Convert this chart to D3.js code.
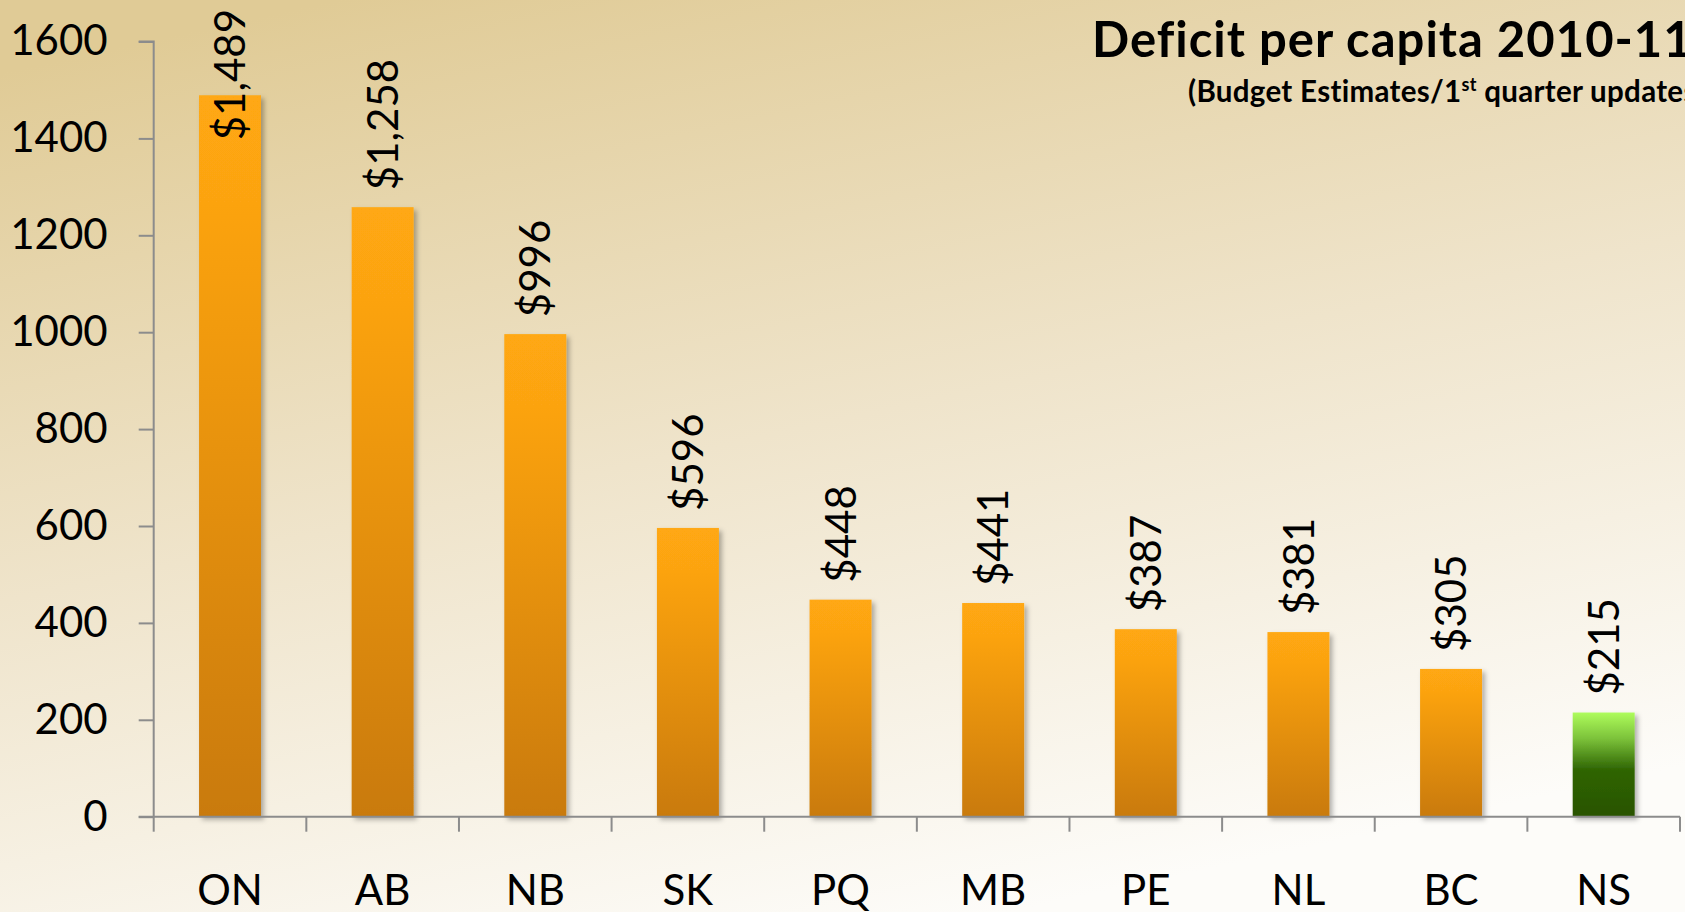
<!DOCTYPE html>
<html>
<head>
<meta charset="utf-8">
<script src="https://cdn.jsdelivr.net/npm/d3@7"></script>
<style>
  html, body { margin: 0; padding: 0; overflow: hidden; }
  svg { display: block; }
</style>
</head>
<body>
<svg id="chart" width="1685" height="912"></svg>
<script>
const categories = ["ON", "AB", "NB", "SK", "PQ", "MB", "PE", "NL", "BC", "NS"];
const values = [1489, 1258, 996, 596, 448, 441, 387, 381, 305, 215];
const labels = ["$1,489", "$1,258", "$996", "$596", "$448", "$441", "$387", "$381", "$305", "$215"];
const yTicks = [0, 200, 400, 600, 800, 1000, 1200, 1400, 1600];
const highlight = ["NS"];
const titleText = "Deficit per capita 2010-11";

const W = 1685, H = 912;
const svg = d3.select("#chart");
const defs = svg.append("defs");

// background gradient
const bg = defs.append("linearGradient").attr("id", "bg")
  .attr("x1", "0.2").attr("y1", "0").attr("x2", "0.6").attr("y2", "1");
bg.append("stop").attr("offset", "0").attr("stop-color", "#e0cb96");
bg.append("stop").attr("offset", "0.5").attr("stop-color", "#efe4cb");
bg.append("stop").attr("offset", "1").attr("stop-color", "#fdfcf9");
svg.append("rect").attr("width", W).attr("height", H).attr("fill", "url(#bg)");

const og = defs.append("linearGradient").attr("id", "orange")
  .attr("x1", 0).attr("y1", 0).attr("x2", 0).attr("y2", 1);
og.append("stop").attr("offset", "0").attr("stop-color", "#ffa812");
og.append("stop").attr("offset", "0.15").attr("stop-color", "#fca311");
og.append("stop").attr("offset", "1").attr("stop-color", "#c97a0a");

const gg = defs.append("linearGradient").attr("id", "green")
  .attr("x1", 0).attr("y1", 0).attr("x2", 0).attr("y2", 1);
gg.append("stop").attr("offset", "0").attr("stop-color", "#aefc5c");
gg.append("stop").attr("offset", "0.25").attr("stop-color", "#7cc23a");
gg.append("stop").attr("offset", "0.55").attr("stop-color", "#2f6503");
gg.append("stop").attr("offset", "1").attr("stop-color", "#295300");

const sh = defs.append("filter").attr("id", "shadow")
  .attr("x", "-20%").attr("y", "-5%").attr("width", "150%").attr("height", "115%");
sh.append("feDropShadow").attr("dx", 3).attr("dy", 3).attr("stdDeviation", 2.5)
  .attr("flood-color", "#000").attr("flood-opacity", 0.3);

const x0 = 153.7, x1 = 1680, y0 = 816.7, y1 = 41.5;
const x = d3.scaleBand().domain(categories).range([x0, x1]).paddingInner(0).paddingOuter(0);
const y = d3.scaleLinear().domain([0, 1600]).range([y0, y1]);
const barW = x.bandwidth() * 0.406;

const font = "Lato, 'Open Sans', sans-serif";

// bars
svg.append("g").selectAll("rect").data(categories).join("rect")
  .attr("x", (d) => x(d) + x.bandwidth() / 2 - barW / 2)
  .attr("y", (d, i) => y(values[i]))
  .attr("width", barW)
  .attr("height", (d, i) => y(0) - y(values[i]))
  .attr("fill", (d) => highlight.includes(d) ? "url(#green)" : "url(#orange)")
  .attr("filter", "url(#shadow)");

// y axis
const yAxis = d3.axisLeft(y).tickValues(yTicks).tickSize(15).tickPadding(31).tickFormat(d3.format("d"));
const gy = svg.append("g").attr("transform", `translate(${x0},0)`).call(yAxis);
gy.select(".domain").attr("stroke", "#8c8c8c").attr("stroke-width", 2).attr("d", `M-15,${y1}H0V${y0}`);
gy.selectAll(".tick line").attr("stroke", "#8c8c8c").attr("stroke-width", 2);
gy.selectAll(".tick text").attr("font-family", font).attr("font-size", 42).attr("fill", "#000");

// x axis
const xTickPos = d3.range(categories.length + 1).map(i => x0 + i * x.step());
const gx = svg.append("g");
gx.append("line").attr("x1", x0 - 15).attr("x2", x1).attr("y1", y0).attr("y2", y0)
  .attr("stroke", "#8c8c8c").attr("stroke-width", 2);
gx.selectAll("line.t").data(xTickPos).join("line").attr("class", "t")
  .attr("x1", d => d).attr("x2", d => d).attr("y1", y0).attr("y2", y0 + 15)
  .attr("stroke", "#8c8c8c").attr("stroke-width", 2);
gx.selectAll("text").data(categories).join("text")
  .attr("x", d => x(d) + x.bandwidth() / 2)
  .attr("y", 890)
  .attr("dy", "0.36em")
  .attr("text-anchor", "middle")
  .attr("font-family", font).attr("font-size", 42).attr("fill", "#000")
  .text(d => d);

// value labels
const vl = svg.append("g");
categories.forEach((c, i) => {
  const cx = x(c) + x.bandwidth() / 2;
  const t = vl.append("text")
    .attr("font-family", font).attr("font-size", 42).attr("fill", "#000")
    .attr("text-anchor", "start").attr("dy", "0.36em")
    .text(labels[i]);
  const len = t.node().getComputedTextLength();
  const ys = Math.max(y(values[i]) - 17, 9 + len);
  t.attr("transform", `translate(${cx},${ys}) rotate(-90)`);
});

// title
svg.append("text").attr("x", 1092).attr("y", 57)
  .attr("font-family", font).attr("font-weight", "bold").attr("font-size", 49)
  .attr("letter-spacing", 1).attr("fill", "#000")
  .text(titleText);
const sub = svg.append("text").attr("x", 1188).attr("y", 102)
  .attr("font-family", font).attr("font-weight", "bold").attr("font-size", 29.5)
  .attr("letter-spacing", 0.3).attr("fill", "#000");
sub.append("tspan").text("(Budget Estimates/1");
sub.append("tspan").attr("dy", -11).attr("font-size", 18).text("st");
sub.append("tspan").attr("dy", 11).text(" quarter updates)");
</script>
</body>
</html>
